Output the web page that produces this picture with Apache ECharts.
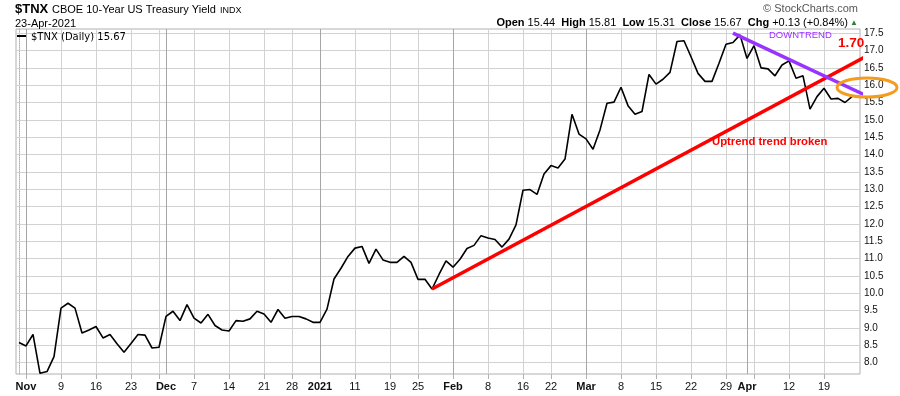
<!DOCTYPE html>
<html>
<head>
<meta charset="utf-8">
<script src="https://cdn.jsdelivr.net/npm/echarts@6/dist/echarts.min.js"></script>
<style>
  html, body { margin: 0; padding: 0; background: #fff; }
  #chart { width: 900px; height: 396px; }
</style>
</head>
<body>
<div id="chart"></div>
<script>
// ==================== Data ====================
// daily closes, 30-Oct-2020 .. 23-Apr-2021 (one per trading day)
const closes = [
    8.58, 8.48, 8.81, 7.69, 7.74, 8.17, 9.57, 9.71, 9.57, 8.85,
    8.94, 9.04, 8.71, 8.81, 8.54, 8.30, 8.55, 8.81, 8.79, 8.42,
    8.44, 9.33, 9.48, 9.21, 9.67, 9.28, 9.14, 9.39, 9.07, 8.94,
    8.91, 9.21, 9.19, 9.26, 9.48, 9.40, 9.16, 9.53, 9.28, 9.33,
    9.33, 9.26, 9.16, 9.16, 9.54, 10.41, 10.72, 11.06, 11.30, 11.35,
    10.86, 11.27, 10.96, 10.89, 10.89, 11.06, 10.89, 10.40, 10.40, 10.12,
    10.54, 10.93, 10.75, 10.98, 11.29, 11.38, 11.66, 11.59, 11.55, 11.33,
    11.56, 11.97, 12.97, 12.99, 12.85, 13.44, 13.68, 13.61, 13.87, 15.16,
    14.59, 14.45, 14.15, 14.71, 15.48, 15.51, 15.94, 15.41, 15.16, 15.24,
    16.31, 16.03, 16.17, 16.37, 17.26, 17.28, 16.82, 16.34, 16.11, 16.11,
    16.63, 17.18, 17.23, 17.45, 16.77, 17.14, 16.50, 16.47, 16.27, 16.58,
    16.70, 16.20, 16.27, 15.31, 15.67, 15.91, 15.60, 15.62, 15.50, 15.67
];

// x axis: trading-day index of each label, and its text
const labelIdx  = [1, 6, 11, 16, 21, 25, 30, 35, 39, 43, 48, 53, 57, 62, 67, 72, 76, 81, 86, 91, 96, 101, 104, 110, 115];
const labelText = ['Nov', '9', '16', '23', 'Dec', '7', '14', '21', '28', '2021', '11', '19', '25', 'Feb', '8', '16', '22', 'Mar', '8', '15', '22', '29', 'Apr', '12', '19'];
const monthIdx  = [1, 21, 43, 62, 81, 104];
const weekIdx   = [1, 6, 11, 16, 20, 25, 30, 35, 39, 43, 48, 53, 57, 62, 67, 72, 76, 81, 86, 91, 96, 101, 105, 110, 115];

const yTicks = [8.0, 8.5, 9.0, 9.5, 10.0, 10.5, 11.0, 11.5, 12.0, 12.5, 13.0, 13.5, 14.0, 14.5, 15.0, 15.5, 16.0, 16.5, 17.0, 17.5];

// hand drawn trend lines [index, value]
const uptrend   = [[59, 10.12], [123.7, 17.12]];
const downtrend = [[102, 17.50], [120.9, 15.71]];

// ==================== Chart ====================
const FONT = '"Liberation Sans", Arial, sans-serif';
const GRID_C = '#d2d2d2';
const MONTH_C = '#a6a6a6';
const chart = echarts.init(document.getElementById('chart'), null, { renderer: 'canvas' });

function gridLine(key, v, color) {
    const o = { lineStyle: { color: color, width: 1, type: 'solid' } };
    o[key] = v;
    return o;
}

chart.setOption({
    animation: false,
    backgroundColor: '#fff',
    grid: {
        left: 16, right: 40, top: 29, bottom: 22,
        show: true, borderColor: '#b0b0b0', borderWidth: 1, backgroundColor: '#fff'
    },
    xAxis: {
        type: 'value',
        min: -3 / 7,
        max: 841 / 7,
        axisLine: { show: false },
        axisTick: { show: true, customValues: weekIdx, length: 5, lineStyle: { color: '#b0b0b0' } },
        splitLine: { show: false },
        axisLabel: {
            customValues: labelIdx,
            margin: 7,
            fontFamily: FONT, fontSize: 11, color: '#111',
            formatter: v => {
                const k = labelIdx.indexOf(v);
                if (k < 0) return '';
                return monthIdx.includes(v) ? '{b|' + labelText[k] + '}' : labelText[k];
            },
            rich: { b: { fontFamily: FONT, fontSize: 11, fontWeight: 'bold', color: '#111' } }
        }
    },
    yAxis: {
        type: 'value',
        position: 'right',
        min: 7.67,
        max: 17.62,
        axisLine: { show: true, lineStyle: { color: '#b0b0b0', type: 'dotted' } },
        axisTick: { show: true, customValues: yTicks, length: 3, lineStyle: { color: '#888' } },
        splitLine: { show: false },
        axisLabel: {
            customValues: yTicks,
            margin: 4,
            fontFamily: FONT, fontSize: 10, color: '#111',
            formatter: v => v.toFixed(1)
        }
    },
    series: [
        {
            // grid lines: horizontal at each y tick, weekly verticals, darker month starts
            type: 'line', data: [], z: 1, silent: true,
            markLine: {
                z: 1, silent: true, symbol: ['none', 'none'], label: { show: false },
                data: yTicks.map(v => gridLine('yAxis', v, GRID_C))
                    .concat(weekIdx.filter(i => !monthIdx.includes(i)).map(i => gridLine('xAxis', i, GRID_C)))
                    .concat(monthIdx.map(i => gridLine('xAxis', i, MONTH_C)))
            }
        },
        {
            name: '$TNX', type: 'line', z: 3,
            data: closes.map((v, i) => [i, v]),
            showSymbol: false,
            lineStyle: { color: '#000', width: 1.6 }
        },
        {
            type: 'line', z: 4, clip: false, data: uptrend, showSymbol: false,
            lineStyle: { color: '#ff0000', width: 3.5 }
        },
        {
            type: 'line', z: 4, clip: false, data: downtrend, showSymbol: false,
            lineStyle: { color: '#9933ff', width: 3.5 }
        }
    ],
    graphic: [
        // header
        { type: 'text', left: 15, top: 3, style: { text: '$TNX', font: 'bold 13px ' + FONT, fill: '#000' } },
        { type: 'text', left: 52, top: 4, style: { text: 'CBOE 10-Year US Treasury Yield', font: '11px ' + FONT, fill: '#000' } },
        { type: 'text', left: 220, top: 6, style: { text: 'INDX', font: '9px ' + FONT, fill: '#000' } },
        { type: 'text', left: 15, top: 18, style: { text: '23-Apr-2021', font: '11px ' + FONT, fill: '#000' } },
        { type: 'text', right: 42, top: 3, style: { text: '\u00A9 StockCharts.com', font: '11px ' + FONT, fill: '#555' } },
        {
            type: 'text', right: 52, top: 17,
            style: {
                text: '{b|Open} 15.44  {b|High} 15.81  {b|Low} 15.31  {b|Close} 15.67  {b|Chg} +0.13 (+0.84%)',
                font: '11px ' + FONT, fill: '#000',
                rich: { b: { font: 'bold 11px ' + FONT, fill: '#000' } }
            }
        },
        { type: 'text', right: 42, top: 19, style: { text: '\u25B2', font: '8px ' + FONT, fill: '#2e7d32' } },
        // legend
        { type: 'rect', z: 10, shape: { x: 17, y: 35, width: 9, height: 2 }, style: { fill: '#000' } },
        { type: 'text', z: 10, left: 31, top: 32, style: { text: '$TNX (Daily) 15.67', font: '10px "DejaVu Sans", Verdana, sans-serif', fill: '#000' } },
        // annotations
        { type: 'text', left: 769, top: 30, z: 10, style: { text: 'DOWNTREND', font: '9.5px ' + FONT, fill: '#9b30ff' } },
        { type: 'text', left: 838, top: 36, z: 10, style: { text: '1.70', font: 'bold 13.5px ' + FONT, fill: '#ff0000' } },
        { type: 'text', left: 712, top: 136, z: 10, style: { text: 'Uptrend trend broken', font: 'bold 11.3px ' + FONT, fill: '#ff0000' } },
        { type: 'ellipse', z: 10, shape: { cx: 867, cy: 87.5, rx: 30, ry: 9.5 }, style: { fill: 'none', stroke: '#f39c1e', lineWidth: 3 } }
    ]
});

window.addEventListener('resize', () => chart.resize());
</script>
</body>
</html>
